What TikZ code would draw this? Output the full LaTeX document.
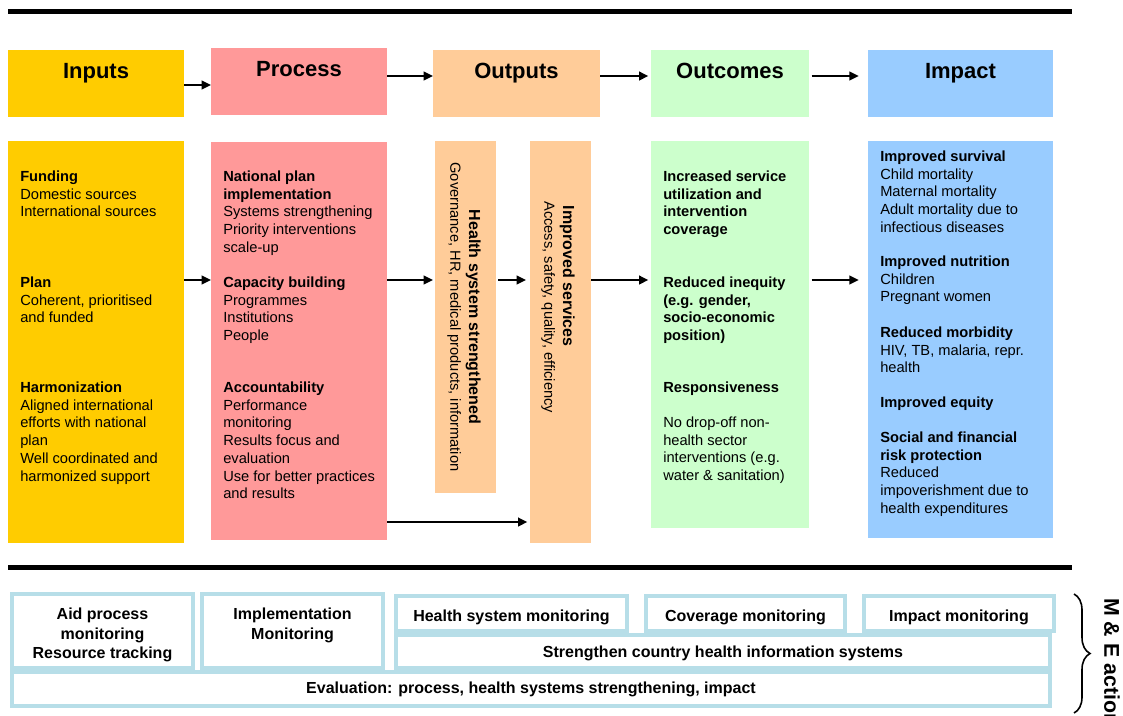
\documentclass[tikz,border=0pt]{standalone}
\usepackage{fontspec}
\setmainfont{Liberation Sans}
\usetikzlibrary{arrows.meta,fit,decorations.pathreplacing}

\definecolor{cin}{HTML}{FFCC00}
\definecolor{cpr}{HTML}{FF9999}
\definecolor{cout}{HTML}{FFCC99}
\definecolor{coc}{HTML}{CCFFCC}
\definecolor{cim}{HTML}{99CCFF}
\definecolor{cmon}{HTML}{B7DEE8}

\begin{document}
\begin{tikzpicture}[x=0.75pt, y=-0.75pt,
    blk/.style={inner sep=0pt, outer sep=0pt},
    hd/.style={font=\fontsize{16.5}{20}\selectfont\bfseries, anchor=base, inner sep=0pt},
    txt/.style={font=\fontsize{11}{13.3}\selectfont, align=left, anchor=north west, inner sep=0pt},
    vtxt/.style={font=\fontsize{11}{14}\selectfont, rotate=-90, inner sep=0pt},
    mon/.style={draw=cmon, line width=3pt, inner sep=0pt},
    mtxt/.style={font=\fontsize{12}{14.6}\selectfont\bfseries, align=center, anchor=base, inner sep=0pt},
    arr/.style={line width=1.5pt, -{Triangle[length=7pt, width=6.5pt]}},
    bar/.style={line width=3.75pt}]
    \useasboundingbox (0,0) rectangle (1123,715);

    \draw[bar] (8,11) -- (1072,11);

    % header row
    \node[blk, fill=cin, fit={(8,50) (184,117)}] (inH) {};
    \node[blk, fill=cpr, fit={(211,48) (387,115)}] (prH) {};
    \node[blk, fill=cout, fit={(433,50) (600,117)}] (ouH) {};
    \node[blk, fill=coc, fit={(651,50) (809,117)}] (ocH) {};
    \node[blk, fill=cim, fit={(868,50) (1053,117)}] (imH) {};

    \node[hd] (inT) at (96,78) {Inputs};
    \node[hd] (prT) at (299,76) {Process};
    \node[hd] (ouT) at (516.5,78) {Outputs};
    \node[hd] (ocT) at (730,78) {Outcomes};
    \node[hd] (imT) at (960.5,78) {Impact};

    \coordinate (yA) at (0,85);
    \coordinate (yB) at (0,76);
    \coordinate (yC) at (0,280);
    \coordinate (yD) at (0,522);

    \draw[arr] (inH.east |- yA) -- (prH.west |- yA);
    \draw[arr] (prH.east |- yB) -- (ouH.west |- yB);
    \draw[arr, shorten >=2pt] (ouH.east |- yB) -- (ocH.west |- yB);
    \draw[arr, shorten <=2pt, shorten >=7pt] (ocH.east |- yB) -- (imH.west |- yB);

    % body row
    \node[blk, fill=cin, fit={(8,141) (184,543)}] (inB) {};
    \node[blk, fill=cpr, fit={(211,142) (387,540)}] (prB) {};
    \node[blk, fill=cout, fit={(435,141) (496,493)}] (hsB) {};
    \node[blk, fill=cout, fit={(530,141) (591,543)}] (isB) {};
    \node[blk, fill=coc, fit={(651,141) (809,528)}] (ocB) {};
    \node[blk, fill=cim, fit={(868,141) (1053,538)}] (imB) {};

    \draw[arr] (inB.east |- yC) -- (prB.west |- yC);
    \draw[arr, shorten >=1.5pt] (prB.east |- yC) -- (hsB.west |- yC);
    \draw[arr, shorten <=1.5pt, shorten >=3pt] (hsB.east |- yC) -- (isB.west |- yC);
    \draw[arr, shorten >=2pt] (isB.east |- yC) -- (ocB.west |- yC);
    \draw[arr, shorten <=2pt, shorten >=7pt] (ocB.east |- yC) -- (imB.west |- yC);
    \draw[arr, shorten >=2pt] (prB.east |- yD) -- (isB.west |- yD);

    \node[txt] (fund) at (20,170.5) {\textbf{Funding}\\Domestic sources\\International sources};
    \node[txt] (plan) at (20,276.5) {\textbf{Plan}\\Coherent, prioritised\\and funded};
    \node[txt] (harm) at (20,381.5) {\textbf{Harmonization}\\Aligned international\\efforts with national\\plan\\Well coordinated and\\harmonized support};

    \node[txt] (npi) at (223,170.5) {\textbf{National plan}\\\textbf{implementation}\\Systems strengthening\\Priority interventions\\scale-up};
    \node[txt] (cap) at (223,276.5) {\textbf{Capacity building}\\Programmes\\Institutions\\People};
    \node[txt] (acc) at (223,381.5) {\textbf{Accountability}\\Performance\\monitoring\\Results focus and\\evaluation\\Use for better practices\\and results};

    \node[vtxt, align=center] (hsT) at (464,317) {{\fontsize{12}{14}\selectfont\bfseries Health system strengthened}\\Governance, HR, medical products, information};
    \node[vtxt, align=left, anchor=west] (isT) at (558,201) {\hspace*{3.5pt}{\fontsize{12}{14}\selectfont\bfseries Improved services}\\Access, safety, quality, efficiency};

    \node[txt] (use) at (663,170.5) {\textbf{Increased service}\\\textbf{utilization and}\\\textbf{intervention}\\\textbf{coverage}};
    \node[txt] (ineq) at (663,276.5) {\textbf{Reduced inequity}\\\textbf{(e.g. gender,}\\\textbf{socio-economic}\\\textbf{position)}};
    \node[txt] (resp) at (663,381.5) {\textbf{Responsiveness}};
    \node[txt] (drop) at (663,416.5) {No drop-off non-\\health sector\\interventions (e.g.\\water \& sanitation)};

    \node[txt] (surv) at (880,150.5) {\textbf{Improved survival}\\Child mortality\\Maternal mortality\\Adult mortality due to\\infectious diseases};
    \node[txt] (nutr) at (880,255.5) {\textbf{Improved nutrition}\\Children\\Pregnant women};
    \node[txt] (morb) at (880,326.5) {\textbf{Reduced morbidity}\\HIV, TB, malaria, repr.\\health};
    \node[txt] (equi) at (880,396.5) {\textbf{Improved equity}};
    \node[txt] (risk) at (880,431.5) {\textbf{Social and financial}\\\textbf{risk protection}\\Reduced\\impoverishment due to\\health expenditures};

    % monitoring and evaluation
    \draw[bar] (8,567.5) -- (1072,567.5);

    \node[mon, fit={(12,594) (193,668)}] (aidM) {};
    \node[mon, fit={(202,594) (383,668)}] (implM) {};
    \node[mon, fit={(396,596) (627,631)}] (hsM) {};
    \node[mon, fit={(646,596) (845,631)}] (covM) {};
    \node[mon, fit={(864,596) (1054,631)}] (impM) {};
    \node[mon, fit={(396,635) (1050,668)}] (shisM) {};
    \node[mon, fit={(12,672) (1050,706)}] (evalM) {};

    \node[mtxt, anchor=north] (aidT) at (102.5,608) {Aid process\\monitoring\\Resource tracking};
    \node[mtxt, anchor=north] (implT) at (292.5,608) {Implementation\\Monitoring};
    \node[mtxt] (hsMT) at (hsM.center |- 0,621) {Health system monitoring};
    \node[mtxt] (covMT) at (covM.center |- 0,621) {Coverage monitoring};
    \node[mtxt] (impMT) at (impM.center |- 0,621) {Impact monitoring};
    \node[mtxt] (shisT) at (shisM.center |- 0,657.5) {Strengthen country health information systems};
    \node[mtxt] (evalT) at (evalM.center |- 0,693.5) {Evaluation: process, health systems strengthening, impact};

    \coordinate (brT) at (1074,594);
    \coordinate (brB) at (1074,713);
    \draw[decorate, decoration={brace, amplitude=12pt}, line width=1.2pt] (brT) -- (brB);
    \node[font=\fontsize{16}{19}\selectfont\bfseries, rotate=-90, anchor=west, inner sep=0pt] (meT) at (1112,598) {M \& E action};
\end{tikzpicture}
\end{document}
